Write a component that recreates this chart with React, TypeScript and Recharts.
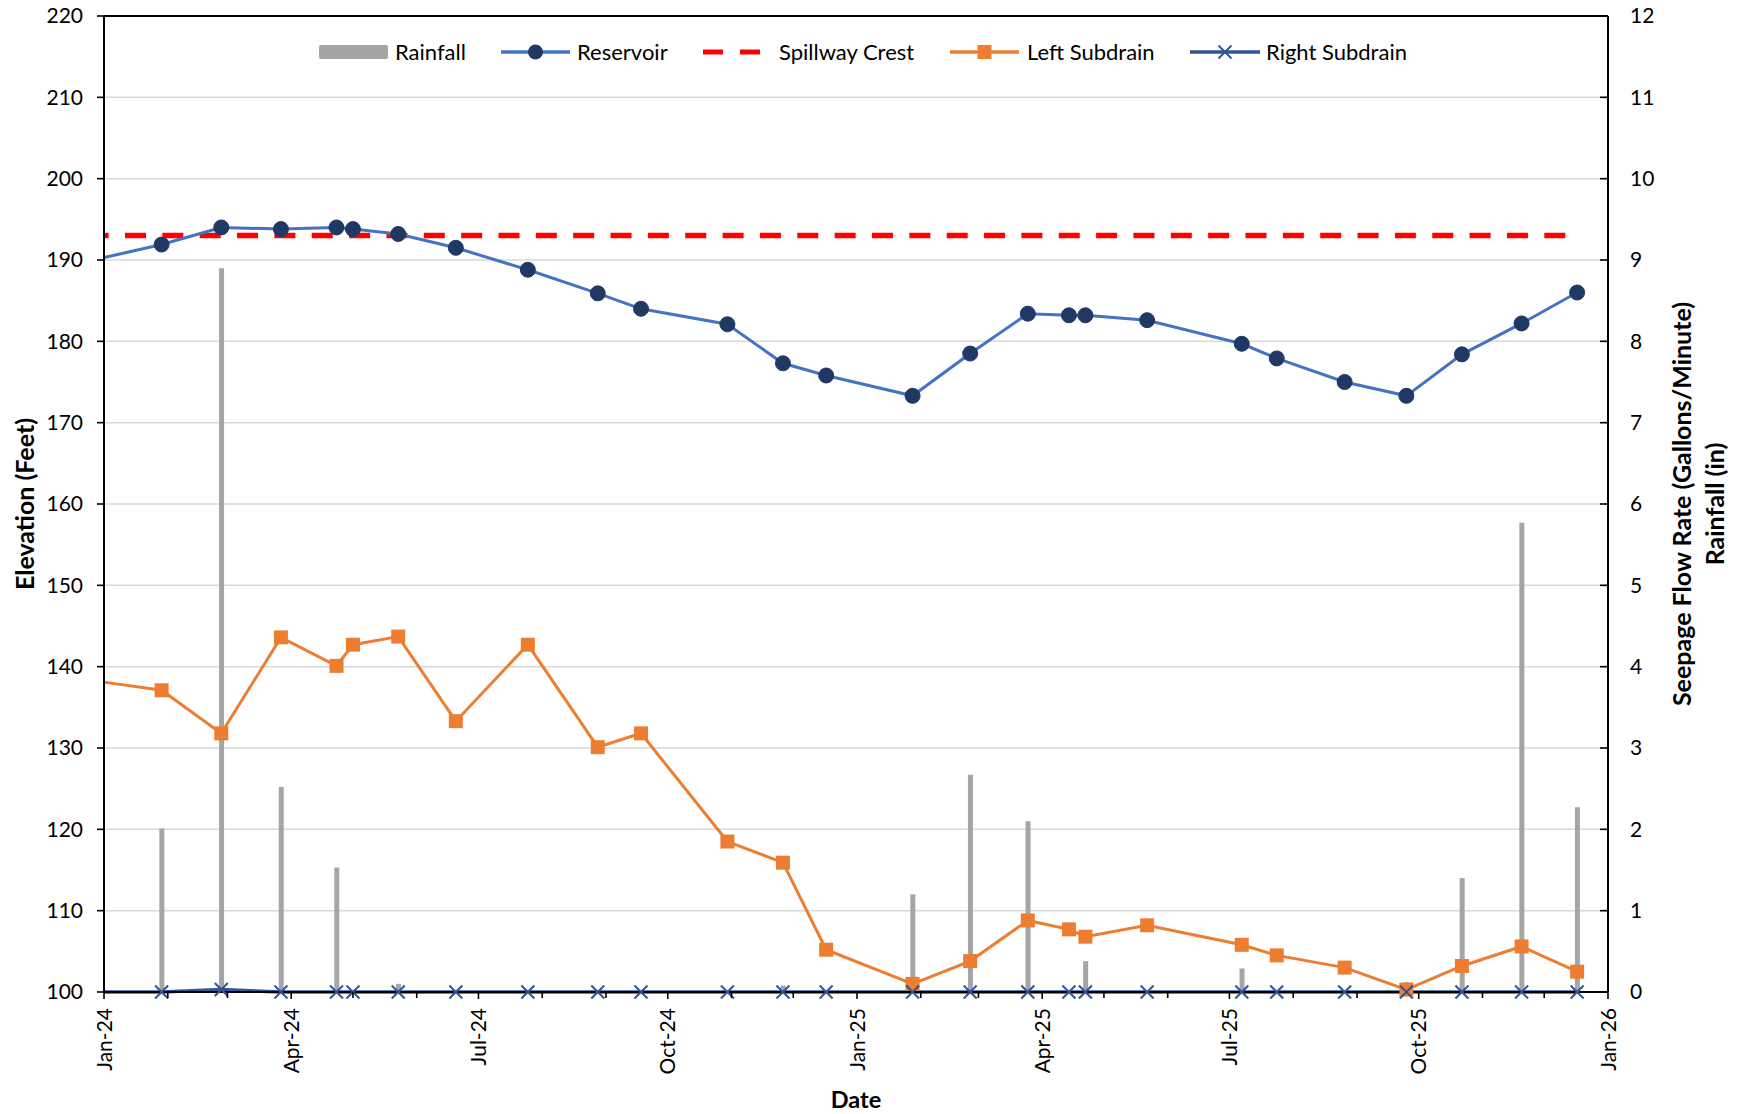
import React from 'react';
import {
  ComposedChart,
  Line,
  Bar,
  XAxis,
  YAxis,
  CartesianGrid,
  ReferenceLine,
  Legend,
  Label,
} from 'recharts';

// ---------------- DATA ----------------
const readingDates = [
  '2024-01-01', '2024-01-29', '2024-02-27', '2024-03-27', '2024-04-23', '2024-05-01',
  '2024-05-23', '2024-06-20', '2024-07-25', '2024-08-28', '2024-09-18', '2024-10-30',
  '2024-11-26', '2024-12-17', '2025-01-28', '2025-02-25', '2025-03-25', '2025-04-14',
  '2025-04-22', '2025-05-22', '2025-07-07', '2025-07-24', '2025-08-26', '2025-09-25',
  '2025-10-22', '2025-11-20', '2025-12-17',
];
const reservoirFt = [
  190.3, 191.9, 194.0, 193.8, 194.0, 193.8, 193.2, 191.5, 188.8, 185.9, 184.0, 182.1,
  177.3, 175.8, 173.3, 178.5, 183.4, 183.2, 183.2, 182.6, 179.7, 177.9, 175.0, 173.3,
  178.4, 182.2, 186.0,
];
const spillwayCrestFt = [
  193, 193, 193, 193, 193, 193, 193, 193, 193, 193, 193, 193, 193, 193, 193, 193, 193,
  193, 193, 193, 193, 193, 193, 193, 193, 193, 193,
];
const leftSubdrainGpm = [
  3.81, 3.71, 3.18, 4.36, 4.01, 4.27, 4.37, 3.33, 4.27, 3.01, 3.18, 1.85, 1.59, 0.52,
  0.1, 0.38, 0.88, 0.77, 0.68, 0.82, 0.58, 0.45, 0.3, 0.03, 0.32, 0.56, 0.25,
];
const rightSubdrainGpm = [
  0, 0, 0.03, 0, 0, 0, 0, 0, 0, 0, 0, 0, 0, 0, 0, 0, 0, 0, 0, 0, 0, 0, 0, 0, 0, 0, 0,
];
const rainfallIn: (number | null)[] = [
  null, 2.01, 8.9, 2.52, 1.53, null, 0.1, null, null, null, null, null, 0.08, null,
  1.2, 2.67, 2.1, null, 0.38, null, 0.29, null, null, 0.12, 1.4, 5.77, 2.27,
];
const xTickDates = [
  '2024-01-01', '2024-04-01', '2024-07-01', '2024-10-01', '2025-01-01',
  '2025-04-01', '2025-07-01', '2025-10-01', '2026-01-01',
];
const xTickLabels = ['Jan-24', 'Apr-24', 'Jul-24', 'Oct-24', 'Jan-25', 'Apr-25', 'Jul-25', 'Oct-25', 'Jan-26'];
const elevationTicks = [100, 110, 120, 130, 140, 150, 160, 170, 180, 190, 200, 210, 220];
const flowTicks = [0, 1, 2, 3, 4, 5, 6, 7, 8, 9, 10, 11, 12];
const seriesNames = ['Rainfall', 'Reservoir', 'Spillway Crest', 'Left Subdrain', 'Right Subdrain'];

// ---------------- HELPERS ----------------
const DAY0 = Date.UTC(2024, 0, 1);
const toDay = (s: string) => {
  const [y, m, d] = s.split('-').map(Number);
  return (Date.UTC(y, m - 1, d) - DAY0) / 86400000;
};
const majorTicks = xTickDates.map(toDay);
const tickLabelOf: Record<number, string> = {};
majorTicks.forEach((t, i) => (tickLabelOf[t] = xTickLabels[i]));
// monthly (minor) tick positions, Jan-24 .. Jan-26
const monthTicks: number[] = [];
for (let i = 0; i <= 24; i++) {
  monthTicks.push((Date.UTC(2024, i, 1) - DAY0) / 86400000);
}

const data = readingDates.map((d, i) => ({
  day: toDay(d),
  reservoir: reservoirFt[i],
  spillway: spillwayCrestFt[i],
  left: leftSubdrainGpm[i],
  right: rightSubdrainGpm[i],
  rain: rainfallIn[i],
}));

const C_RES_LINE = '#4472C4';
const C_RES_DOT = '#203864';
const C_SPILL = '#FF0000';
const C_LEFT = '#ED7D31';
const C_RIGHT = '#2F5597';
const C_RAIN = '#A5A5A5';
const CAL = 'Lato, "Open Sans", sans-serif';

const ResDot = (p: any) => {
  if (p.index === 0 || p.cx == null) return <g key={`rd${p.index}`} />;
  return <circle key={`rd${p.index}`} cx={p.cx} cy={p.cy} r={7.5} fill={C_RES_DOT} stroke={C_RES_DOT} />;
};
const LeftDot = (p: any) => {
  if (p.index === 0 || p.cx == null) return <g key={`ld${p.index}`} />;
  return <rect key={`ld${p.index}`} x={p.cx - 7} y={p.cy - 7} width={14} height={14} fill={C_LEFT} />;
};
const RightDot = (p: any) => {
  if (p.index === 0 || p.cx == null) return <g key={`xd${p.index}`} />;
  const s = 6.5;
  return (
    <g key={`xd${p.index}`} stroke={C_RIGHT} strokeWidth={2}>
      <line x1={p.cx - s} y1={p.cy - s} x2={p.cx + s} y2={p.cy + s} />
      <line x1={p.cx - s} y1={p.cy + s} x2={p.cx + s} y2={p.cy - s} />
    </g>
  );
};

const XTick = (p: any) => {
  const { x, y, payload } = p;
  const label = tickLabelOf[payload.value];
  const ly = y + 16;
  return (
    <g>
      <line x1={x} x2={x} y1={y} y2={y + (label ? 7 : 6)} stroke="#000" strokeWidth={1.6} />
      {label ? (
        <text
          x={x}
          y={ly}
          transform={`rotate(-90 ${x} ${ly})`}
          textAnchor="end"
          dy="0.36em"
          fontFamily={CAL}
          fontSize={21}
          fill="#000"
        >
          {label}
        </text>
      ) : null}
    </g>
  );
};

const LegendContent = () => {
  const cy = 52;
  const txt = { fontFamily: CAL, fontSize: 22, fill: '#000', dy: '0.35em' } as any;
  return (
    <svg width={1746} height={80} style={{ display: 'block' }}>
      <rect x={319} y={cy - 7} width={69} height={14} rx={2} fill={C_RAIN} />
      <text x={395} y={cy} {...txt}>{seriesNames[0]}</text>
      <line x1={501} x2={570} y1={cy} y2={cy} stroke={C_RES_LINE} strokeWidth={3.5} />
      <circle cx={535.5} cy={cy} r={7.5} fill={C_RES_DOT} />
      <text x={577} y={cy} {...txt}>{seriesNames[1]}</text>
      <line x1={703} x2={723} y1={cy} y2={cy} stroke={C_SPILL} strokeWidth={5} />
      <line x1={740} x2={760} y1={cy} y2={cy} stroke={C_SPILL} strokeWidth={5} />
      <text x={779} y={cy} {...txt}>{seriesNames[2]}</text>
      <line x1={950} x2={1019} y1={cy} y2={cy} stroke={C_LEFT} strokeWidth={3.5} />
      <rect x={977.5} y={cy - 7} width={14} height={14} fill={C_LEFT} />
      <text x={1027} y={cy} {...txt}>{seriesNames[3]}</text>
      <line x1={1190} x2={1260} y1={cy} y2={cy} stroke={C_RIGHT} strokeWidth={3.5} />
      <g stroke={C_RIGHT} strokeWidth={2}>
        <line x1={1218.5} y1={cy - 6.5} x2={1231.5} y2={cy + 6.5} />
        <line x1={1218.5} y1={cy + 6.5} x2={1231.5} y2={cy - 6.5} />
      </g>
      <text x={1266} y={cy} {...txt}>{seriesNames[4]}</text>
    </svg>
  );
};

export default function App() {
  return (
    <div style={{ position: 'absolute', left: 0, top: 0, width: 1746, height: 1114, background: '#fff' }}>
      <ComposedChart
        width={1746}
        height={1114}
        data={data}
        margin={{ top: 16, right: 0, bottom: 0, left: 0 }}
      >
        <CartesianGrid yAxisId="left" horizontal vertical={false} stroke="#D9D9D9" strokeWidth={1.5} />
        <XAxis
          dataKey="day"
          type="number"
          domain={[majorTicks[0], majorTicks[majorTicks.length - 1]]}
          ticks={monthTicks}
          interval={0}
          height={122}
          tick={<XTick />}
          tickSize={0}
          tickMargin={0}
          tickLine={false}
          axisLine={{ stroke: '#000', strokeWidth: 2 }}
        >
          <Label
            content={(p: any) => {
              const vb = p.viewBox;
              return (
                <text x={vb.x + vb.width / 2} y={vb.y + 108} textAnchor="middle" dy="0.35em"
                  fontFamily={CAL} fontWeight="bold" fontSize={23.5} fill="#000">Date</text>
              );
            }}
          />
        </XAxis>
        <YAxis
          yAxisId="left"
          orientation="left"
          domain={[100, 220]}
          ticks={elevationTicks}
          interval={0}
          width={104}
          tickSize={7}
          tickMargin={14}
          tick={{ fontFamily: CAL, fontSize: 21, fill: '#000' }}
          axisLine={{ stroke: '#000', strokeWidth: 2 }}
          tickLine={{ stroke: '#000', strokeWidth: 1.6 }}
        >
          <Label
            content={(p: any) => {
              const vb = p.viewBox;
              const cx = 25;
              const cy = vb.y + vb.height / 2;
              return (
                <text x={cx} y={cy} transform={`rotate(-90 ${cx} ${cy})`} textAnchor="middle" dy="0.35em"
                  fontFamily={CAL} fontWeight="bold" fontSize={25} fill="#000">Elevation (Feet)</text>
              );
            }}
          />
        </YAxis>
        <YAxis
          yAxisId="right"
          orientation="right"
          domain={[0, 12]}
          ticks={flowTicks}
          interval={0}
          width={138}
          tickSize={-8}
          tickMargin={30}
          tick={{ fontFamily: CAL, fontSize: 21, fill: '#000' }}
          axisLine={{ stroke: '#000', strokeWidth: 2 }}
          tickLine={{ stroke: '#000', strokeWidth: 1.6 }}
        >
          <Label
            content={(p: any) => {
              const vb = p.viewBox;
              const cy = vb.y + vb.height / 2;
              const x1 = vb.x + 74;
              const x2 = vb.x + 107;
              return (
                <g fontFamily={CAL} fontWeight="bold" fontSize={25} fill="#000">
                  <text x={x1} y={cy} transform={`rotate(-90 ${x1} ${cy})`} textAnchor="middle" dy="0.35em">
                    Seepage Flow Rate (Gallons/Minute)
                  </text>
                  <text x={x2} y={cy} transform={`rotate(-90 ${x2} ${cy})`} textAnchor="middle" dy="0.35em">
                    Rainfall (in)
                  </text>
                </g>
              );
            }}
          />
        </YAxis>
        <ReferenceLine yAxisId="left" y={220} stroke="#000" strokeWidth={2} />
        <Legend
          layout="horizontal"
          verticalAlign="middle"
          align="center"
          content={<LegendContent />}
          wrapperStyle={{ position: 'absolute', left: 0, top: 0, width: 1746, height: 80 }}
        />
        <Bar
          yAxisId="right"
          dataKey="rain"
          name={seriesNames[0]}
          barSize={5}
          fill={C_RAIN}
          isAnimationActive={false}
        />
        <Line
          yAxisId="left"
          dataKey="spillway"
          name={seriesNames[2]}
          stroke={C_SPILL}
          strokeWidth={5.5}
          strokeDasharray="21 16.35"
          strokeDashoffset={16.35}
          dot={false}
          activeDot={false}
          isAnimationActive={false}
        />
        <Line
          yAxisId="left"
          dataKey="reservoir"
          name={seriesNames[1]}
          stroke={C_RES_LINE}
          strokeWidth={3}
          dot={ResDot}
          activeDot={false}
          isAnimationActive={false}
        />
        <Line
          yAxisId="right"
          dataKey="left"
          name={seriesNames[3]}
          stroke={C_LEFT}
          strokeWidth={3}
          dot={LeftDot}
          activeDot={false}
          isAnimationActive={false}
        />
        <Line
          yAxisId="right"
          dataKey="right"
          name={seriesNames[4]}
          stroke={C_RIGHT}
          strokeWidth={3.5}
          dot={RightDot}
          activeDot={false}
          isAnimationActive={false}
        />
      </ComposedChart>
    </div>
  );
}
